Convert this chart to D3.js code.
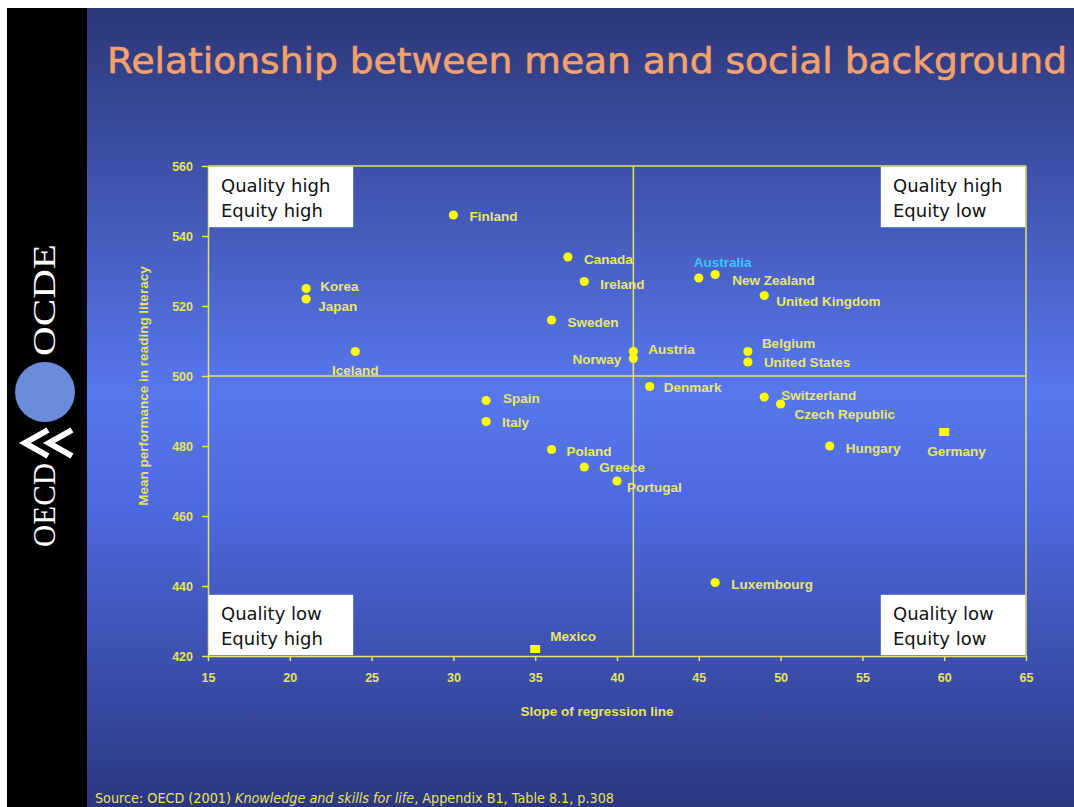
<!DOCTYPE html>
<html>
<head>
<meta charset="utf-8">
<script src="https://cdn.jsdelivr.net/npm/d3@7"></script>
<style>
  body { margin: 0; background: #fff; }
  svg { display: block; }
</style>
</head>
<body>
<svg width="1074" height="807"></svg>
<script>
// data (PISA 2000 reading)
var countries = ["Finland", "Canada", "Ireland", "Sweden", "Korea", "Japan", "Iceland",
  "Austria", "Norway", "Australia", "New Zealand", "United Kingdom", "Belgium",
  "United States", "Denmark", "Switzerland", "Czech Republic", "Spain", "Italy",
  "Poland", "Greece", "Portugal", "Hungary", "Germany", "Luxembourg", "Mexico"];
var slopes = [30, 37, 38, 36, 21, 21, 24, 41, 41, 45, 46, 49, 48, 48, 42, 49, 50, 32, 32,
  36, 38, 40, 53, 60, 46, 35];
var means = [546, 534, 527, 516, 525, 522, 507, 507, 505, 528, 529, 523, 507, 504, 497,
  494, 492, 493, 487, 479, 474, 470, 480, 484, 441, 422];
var squareMarked = ["Germany", "Mexico"];

var xTicks = [15, 20, 25, 30, 35, 40, 45, 50, 55, 60, 65];
var yTicks = [420, 440, 460, 480, 500, 520, 540, 560];
var xSplit = 41, ySplit = 500;

var quadrants = [
  ["Quality high", "Equity high"],
  ["Quality high", "Equity low"],
  ["Quality low", "Equity high"],
  ["Quality low", "Equity low"]
];

// label placement relative to each marker
var labelPos = {
  "Finland": [16, 6, "start"], "Canada": [16, 7, "start"], "Ireland": [16, 7, "start"],
  "Sweden": [16, 7, "start"], "Korea": [14, 2, "start"], "Japan": [12, 12, "start"],
  "Iceland": [0, 23, "middle"], "Austria": [15, 2, "start"], "Norway": [-12, 5, "end"],
  "Australia": [-5, -11, "start"], "New Zealand": [17, 10, "start"],
  "United Kingdom": [12, 10, "start"], "Belgium": [14, -4, "start"],
  "United States": [16, 5, "start"], "Denmark": [14, 5, "start"],
  "Switzerland": [17, 3, "start"], "Czech Republic": [14, 15, "start"],
  "Spain": [17, 2, "start"], "Italy": [16, 5, "start"], "Poland": [15, 6, "start"],
  "Greece": [15, 5, "start"], "Portugal": [10, 11, "start"], "Hungary": [16, 7, "start"],
  "Germany": [-17, 24, "start"], "Luxembourg": [16, 6, "start"], "Mexico": [15, -8, "start"]
};

var svg = d3.select("svg");
var yellow = "#e6e35e";
var comic = "'Comic Sans MS', 'DejaVu Sans', sans-serif";
var arial = "'Liberation Sans', Arial, sans-serif";

// slide background
var grad = svg.append("defs").append("linearGradient")
    .attr("id", "bg").attr("x1", 0).attr("y1", 0).attr("x2", 0).attr("y2", 1);
grad.append("stop").attr("offset", "0%").attr("stop-color", "#2c3777");
grad.append("stop").attr("offset", "48%").attr("stop-color", "#5877ee");
grad.append("stop").attr("offset", "62%").attr("stop-color", "#4e6ae0");
grad.append("stop").attr("offset", "100%").attr("stop-color", "#2b3780");

svg.append("rect").attr("x", 7).attr("y", 8).attr("width", 1067).attr("height", 799)
    .attr("fill", "url(#bg)");

// OECD band on the left
svg.append("rect").attr("x", 7).attr("y", 8).attr("width", 80).attr("height", 799)
    .attr("fill", "#000");
svg.append("text")
    .attr("transform", "translate(55,300) rotate(-90)")
    .attr("text-anchor", "middle")
    .attr("font-family", "'Liberation Serif', 'DejaVu Serif', serif")
    .attr("font-size", 31).attr("fill", "#fff")
    .attr("textLength", 112).attr("lengthAdjust", "spacingAndGlyphs")
    .text("OCDE");
svg.append("text")
    .attr("transform", "translate(55,505) rotate(-90)")
    .attr("text-anchor", "middle")
    .attr("font-family", "'Liberation Serif', 'DejaVu Serif', serif")
    .attr("font-size", 31).attr("fill", "#fff")
    .attr("textLength", 84).attr("lengthAdjust", "spacingAndGlyphs")
    .text("OECD");
svg.append("circle").attr("cx", 45).attr("cy", 392).attr("r", 30).attr("fill", "#6b8cd9");
var chev = svg.append("g").attr("fill", "none").attr("stroke", "#fff")
    .attr("stroke-width", 6);
chev.append("path").attr("d", "M48,430 L25,443 L48,456");
chev.append("path").attr("d", "M72,430 L49,443 L72,456");

// title
svg.append("text")
    .attr("x", 107).attr("y", 73)
    .attr("font-family", comic).attr("font-size", 36)
    .attr("fill", "#f4a16c").attr("stroke", "#f4a16c").attr("stroke-width", 0.6)
    .attr("textLength", 960).attr("lengthAdjust", "spacingAndGlyphs")
    .text("Relationship between mean and social background");

var x = d3.scaleLinear().domain([15, 65]).range([208, 1026]);
var y = d3.scaleLinear().domain([420, 560]).range([656, 166]);

// axes
var xAxis = svg.append("g")
    .attr("transform", "translate(0," + y(420) + ")")
    .call(d3.axisBottom(x).tickValues(xTicks).tickSize(5).tickPadding(12).tickSizeOuter(0));
var yAxis = svg.append("g")
    .attr("transform", "translate(" + x(15) + ",0)")
    .call(d3.axisLeft(y).tickValues(yTicks).tickSize(6).tickPadding(9).tickSizeOuter(0));

[xAxis, yAxis].forEach(function(a) {
  a.selectAll("path, line").attr("stroke", yellow).attr("stroke-width", 1.5);
  a.selectAll("text").attr("fill", yellow)
      .attr("font-family", arial).attr("font-weight", "bold").attr("font-size", 12.5);
});

// frame and quadrant dividers
var frame = svg.append("g").attr("stroke", yellow).attr("stroke-width", 1.5);
frame.append("line").attr("x1", x(15)).attr("x2", x(65)).attr("y1", y(560)).attr("y2", y(560));
frame.append("line").attr("x1", x(65)).attr("x2", x(65)).attr("y1", y(560)).attr("y2", y(420));
frame.append("line").attr("x1", x(xSplit)).attr("x2", x(xSplit)).attr("y1", y(560)).attr("y2", y(420));
frame.append("line").attr("x1", x(15)).attr("x2", x(65)).attr("y1", y(ySplit)).attr("y2", y(ySplit));

// quadrant boxes
var boxW = 146, boxH = 62;
var boxSpots = [
  [x(15), y(560)], [x(65) - boxW, y(560)],
  [x(15), y(420) - boxH], [x(65) - boxW, y(420) - boxH]
];
quadrants.forEach(function(q, i) {
  var g = svg.append("g").attr("transform", "translate(" + boxSpots[i][0] + "," + boxSpots[i][1] + ")");
  g.append("rect").attr("x", 0.8).attr("y", 0.8).attr("width", boxW - 1.6).attr("height", boxH - 1.6)
      .attr("fill", "#fff");
  g.selectAll("text").data(q).enter().append("text")
      .attr("x", 13).attr("y", function(d, j) { return 26 + j * 25; })
      .attr("font-family", comic).attr("font-size", 18).attr("fill", "#111")
      .text(function(d) { return d; });
});

// axis titles
svg.append("text")
    .attr("x", 597).attr("y", 716).attr("text-anchor", "middle")
    .attr("font-family", arial).attr("font-weight", "bold").attr("font-size", 13.5)
    .attr("fill", yellow)
    .text("Slope of regression line");
svg.append("text")
    .attr("transform", "translate(148,386) rotate(-90)").attr("text-anchor", "middle")
    .attr("font-family", arial).attr("font-weight", "bold").attr("font-size", 13.5)
    .attr("fill", yellow)
    .text("Mean performance in reading literacy");

// points
var pts = countries.map(function(c, i) { return { name: c, slope: slopes[i], mean: means[i] }; });

var marks = svg.append("g").attr("fill", "#ffff00");
marks.selectAll("circle")
    .data(pts.filter(function(d) { return squareMarked.indexOf(d.name) < 0; }))
    .enter().append("circle")
    .attr("cx", function(d) { return x(d.slope); })
    .attr("cy", function(d) { return y(d.mean); })
    .attr("r", 4.6);
marks.selectAll("rect")
    .data(pts.filter(function(d) { return squareMarked.indexOf(d.name) >= 0; }))
    .enter().append("rect")
    .attr("x", function(d) { return x(d.slope) - 5; })
    .attr("y", function(d) { return y(d.mean) - 4; })
    .attr("width", 10).attr("height", 8);

svg.append("g").selectAll("text")
    .data(pts)
    .enter().append("text")
    .attr("x", function(d) { return x(d.slope) + labelPos[d.name][0]; })
    .attr("y", function(d) { return y(d.mean) + labelPos[d.name][1]; })
    .attr("text-anchor", function(d) { return labelPos[d.name][2]; })
    .attr("font-family", arial).attr("font-weight", "bold").attr("font-size", 13.5)
    .attr("fill", function(d) { return d.name == "Australia" ? "#3cc8ff" : "#e9e66e"; })
    .text(function(d) { return d.name; });

// source line
var src = svg.append("text")
    .attr("x", 95).attr("y", 803)
    .attr("font-family", comic).attr("font-size", 13.5).attr("fill", "#e8e25a")
    .attr("textLength", 519).attr("lengthAdjust", "spacingAndGlyphs");
src.append("tspan").text("Source: OECD (2001) ");
src.append("tspan").attr("font-style", "italic").text("Knowledge and skills for life");
src.append("tspan").text(", Appendix B1, Table 8.1, p.308");
</script>
</body>
</html>
